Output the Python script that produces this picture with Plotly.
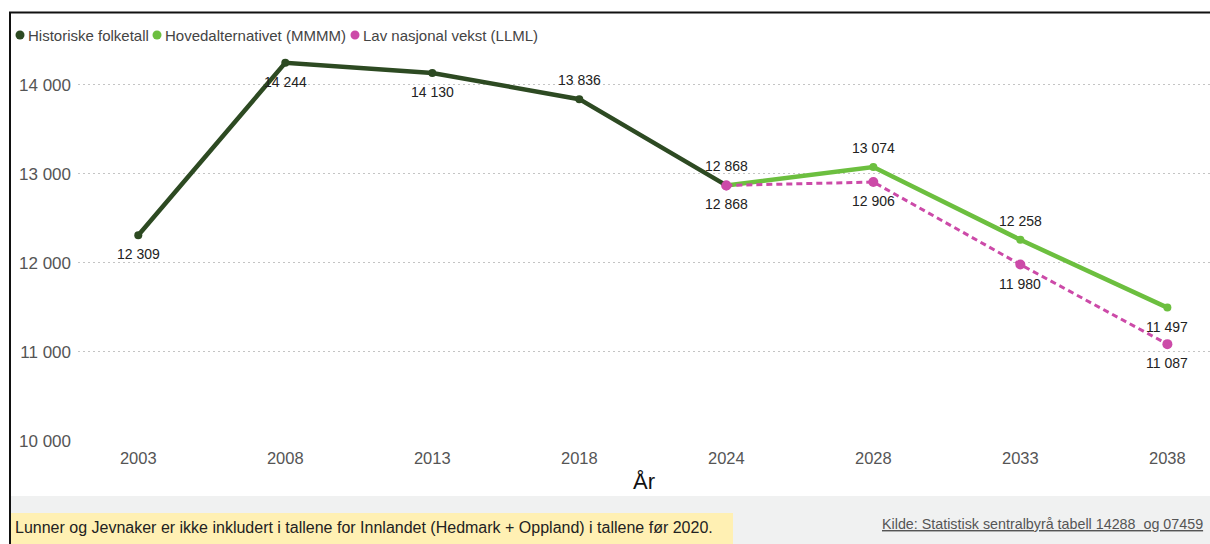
import plotly.graph_objects as go

years = ["2003", "2008", "2013", "2018", "2024", "2028", "2033", "2038"]
hist_years = ["2003", "2008", "2013", "2018", "2024"]
hist_vals = [12309, 14244, 14130, 13836, 12868]
main_years = ["2024", "2028", "2033", "2038"]
main_vals = [12868, 13074, 12258, 11497]
low_years = ["2024", "2028", "2033", "2038"]
low_vals = [12868, 12906, 11980, 11087]

names = ["Historiske folketall", "Hovedalternativet (MMMM)", "Lav nasjonal vekst (LLML)"]
colors = ["#2d4a22", "#6cbf3f", "#cc4aa8"]

# +1 = label above point, -1 = below, 0 = no label
hist_side = [-1, -1, -1, 1, -1]
main_side = [1, 1, 1, -1]
low_side = [0, -1, -1, -1]

note_text = "Lunner og Jevnaker er ikke inkludert i tallene for Innlandet (Hedmark + Oppland) i tallene før 2020."
source_text = "Kilde: Statistisk sentralbyrå tabell 14288  og 07459"

FONT = "Liberation Sans, Arial, sans-serif"


def fmt(v):
    return f"{v:,}".replace(",", " ")


W, H = 1210, 544
L, R, T, B = 78, 0, 40, 103
pw = W - L - R
ph = H - T - B


def px(x):
    return (x - L) / pw


def py(y):
    return (H - B - y) / ph


fig = go.Figure()

fig.add_trace(go.Scatter(
    x=main_years, y=main_vals, mode="lines+markers",
    line=dict(color=colors[1], width=4.5), marker=dict(size=8, color=colors[1]),
    name=names[1], showlegend=False))
fig.add_trace(go.Scatter(
    x=low_years, y=low_vals, mode="lines+markers",
    line=dict(color=colors[2], width=3, dash="6px,4px"), marker=dict(size=10, color=colors[2]),
    name=names[2], showlegend=False))
fig.add_trace(go.Scatter(
    x=hist_years, y=hist_vals, mode="lines+markers",
    line=dict(color=colors[0], width=4.5), marker=dict(size=8, color=colors[0]),
    name=names[0], showlegend=False))
fig.add_trace(go.Scatter(
    x=low_years[:1], y=low_vals[:1], mode="markers",
    marker=dict(size=10, color=colors[2]), showlegend=False, hoverinfo="skip"))

annotations = []
lab_font = dict(family=FONT, size=14, color="#222222")
for xs, vs, sides in [(hist_years, hist_vals, hist_side), (main_years, main_vals, main_side),
                      (low_years, low_vals, low_side)]:
    for xv, v, s in zip(xs, vs, sides):
        if s == 0:
            continue
        annotations.append(dict(x=years.index(xv), y=v, xref="x", yref="y", text=fmt(v),
                                showarrow=False, xanchor="center", yanchor="middle",
                                yshift=19 * s, font=lab_font))

# legend drawn as text items with coloured dots
leg_dots = [20, 157, 355]
shapes = [
    dict(type="rect", xref="paper", yref="paper", x0=px(11), x1=px(W + 5), y0=py(496), y1=py(H + 5),
         fillcolor="#f0f1f1", line=dict(width=0), layer="below"),
    dict(type="rect", xref="paper", yref="paper", x0=px(11), x1=px(733), y0=py(513), y1=py(H + 5),
         fillcolor="#fff0b3", line=dict(width=0), layer="below"),
    dict(type="line", xref="paper", yref="paper", x0=px(9), x1=px(W + 5), y0=py(12.5), y1=py(12.5),
         line=dict(color="#111111", width=2)),
    dict(type="line", xref="paper", yref="paper", x0=px(10), x1=px(10), y0=py(12), y1=py(H + 5),
         line=dict(color="#111111", width=2)),
]
for dx, n, c in zip(leg_dots, names, colors):
    shapes.append(dict(type="circle", xref="paper", yref="paper", x0=px(dx - 4.5), x1=px(dx + 4.5),
                       y0=py(35 + 4.5), y1=py(35 - 4.5), fillcolor=c, line=dict(width=0)))
    annotations.append(dict(xref="paper", yref="paper", x=px(dx + 6), y=py(35), xanchor="left",
                            yanchor="middle", text=n, showarrow=False,
                            font=dict(family=FONT, size=15, color="#444444")))

annotations += [
    dict(xref="paper", yref="paper", x=px(13), y=py(527), xanchor="left", yanchor="middle",
         text=note_text, showarrow=False,
         font=dict(family=FONT, size=16, color="#222222")),
    dict(xref="paper", yref="paper", x=px(880), y=py(524), xanchor="left", yanchor="middle",
         text="<u>" + source_text + "</u>", showarrow=False,
         font=dict(family=FONT, size=14.3, color="#555555")),
]

fig.update_layout(
    width=W, height=H,
    margin=dict(l=L, r=R, t=T, b=B, autoexpand=False),
    paper_bgcolor="white", plot_bgcolor="white",
    separators=", ",
    font=dict(family=FONT, color="#444444"),
    shapes=shapes, annotations=annotations,
    showlegend=False,
    xaxis=dict(type="category", categoryorder="array", categoryarray=years,
               range=[-0.41, 7.29], showgrid=False, zeroline=False, showline=False,
               tickfont=dict(size=16.5, color="#555555"), ticks="", ticklabelstandoff=5,
               title=dict(text="År", font=dict(size=22, color="#111111"), standoff=8)),
    yaxis=dict(range=[10000, 14500], tickvals=[10000, 11000, 12000, 13000, 14000],
               tickformat=",d", showgrid=True, gridcolor="#c4c4c4", griddash="2px,3px", gridwidth=1,
               zeroline=False, showline=False, tickfont=dict(size=17, color="#555555"),
               ticks="", ticklabelstandoff=6),
)

fig.write_html("out.html", config={"displayModeBar": False},
               post_script="document.body.style.margin='0';document.body.style.overflow='hidden';")
